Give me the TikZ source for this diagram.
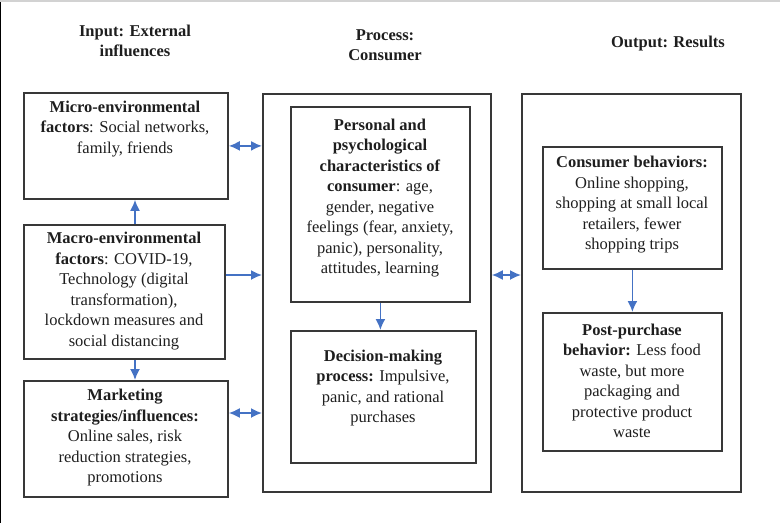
\documentclass[tikz,border=0pt]{standalone}
\usepackage{fontspec}
\setmainfont{Liberation Serif}
\usetikzlibrary{arrows.meta}
\definecolor{arrowblue}{HTML}{4472C4}
\definecolor{boxline}{HTML}{383838}
\definecolor{inktext}{HTML}{1E1E1E}
\tikzset{
    box/.style={draw=boxline,line width=1.8pt,anchor=north west,inner sep=0pt},
    txt/.style={align=center,text=inktext,inner sep=0pt,font=\fontsize{16.5}{20.5}\selectfont},
    head/.style={txt,font=\fontsize{16.5}{20.5}\selectfont\bfseries},
    biarrow/.style={draw=arrowblue,line width=1.7pt,{Latex[length=11pt,width=10pt]}-{Latex[length=11pt,width=10pt]}},
    onearrow/.style={draw=arrowblue,line width=1.7pt,-{Latex[length=11pt,width=10pt]}}
}
\begin{document}
\begin{tikzpicture}[x=1pt,y=-1pt]
\useasboundingbox (0,0) rectangle (780,523);
    \draw[black,line width=1.2pt](0.6,2)--(0.6,523);
    \draw[gray!35,line width=1.5pt](0,0.75)--(780,0.75);
% headings
    \node[head] (hin) at (135,41){Input: External\\influences};
    \node[head] (hpro) at (385,45){Process:\\Consumer};
    \node[head] (hout) at (668,44){Output: Results};
% input column
\begin{scope}
    \node[box,minimum width=204pt,minimum height=106pt] (micro) at (23,92){};
    \node[txt] (microt) at (125,129){\textbf{Micro-environmental}\\\textbf{factors}: Social networks,\\family, friends};
    \node[box,minimum width=201pt,minimum height=134pt] (macro) at (23,224){};
    \node[txt] (macrot) at (124,291){\textbf{Macro-environmental}\\\textbf{factors}: COVID-19,\\Technology (digital\\transformation),\\lockdown measures and\\social distancing};
    \node[box,minimum width=204pt,minimum height=116pt] (market) at (23,380){};
    \node[txt] (markett) at (125,438){\textbf{Marketing}\\\textbf{strategies/influences:}\\Online sales, risk\\reduction strategies,\\promotions};
\end{scope}
% process column
\begin{scope}
    \node[box,minimum width=228pt,minimum height=398pt] (proc) at (262,93){};
    \node[box,minimum width=179pt,minimum height=195pt] (person) at (290,106){};
    \node[txt] (persont) at (380,198){\textbf{Personal and}\\\textbf{psychological}\\\textbf{characteristics of}\\\textbf{consumer}: age,\\gender, negative\\feelings (fear, anxiety,\\panic), personality,\\attitudes, learning};
    \node[box,minimum width=185pt,minimum height=132pt] (decide) at (290,330){};
    \node[txt] (decidet) at (383,388){\textbf{Decision-making}\\\textbf{process:} Impulsive,\\panic, and rational\\purchases};
\end{scope}
% output column
\begin{scope}
    \node[box,minimum width=219pt,minimum height=398pt] (outp) at (521,93){};
    \node[box,minimum width=179pt,minimum height=122pt] (behave) at (542,146){};
    \node[txt] (behavet) at (632,205){\textbf{Consumer behaviors:}\\Online shopping,\\shopping at small local\\retailers, fewer\\shopping trips};
    \node[box,minimum width=179pt,minimum height=138pt] (post) at (542,312){};
    \node[txt] (postt) at (632,381){\textbf{Post-purchase}\\\textbf{behavior:} Less food\\waste, but more\\packaging and\\protective product\\waste};
\end{scope}
% arrows
    \coordinate (lx) at (135,0);
    \coordinate (r1) at (0,275);
    \coordinate (r2) at (0,413);
    \draw[onearrow](lx |- macro.north)--(lx |- micro.south);
    \draw[onearrow](lx |- macro.south)--(lx |- market.north);
    \draw[biarrow](micro.east)--(micro.east -| proc.west);
    \draw[onearrow](macro.east |- r1)--(proc.west |- r1);
    \draw[biarrow](market.east |- r2)--(proc.west |- r2);
    \draw[biarrow](proc.east |- r1)--(outp.west |- r1);
    \draw[onearrow](person.south)--(person.south |- decide.north);
    \draw[onearrow](behave.south)--(behave.south |- post.north);
\end{tikzpicture}
\end{document}
